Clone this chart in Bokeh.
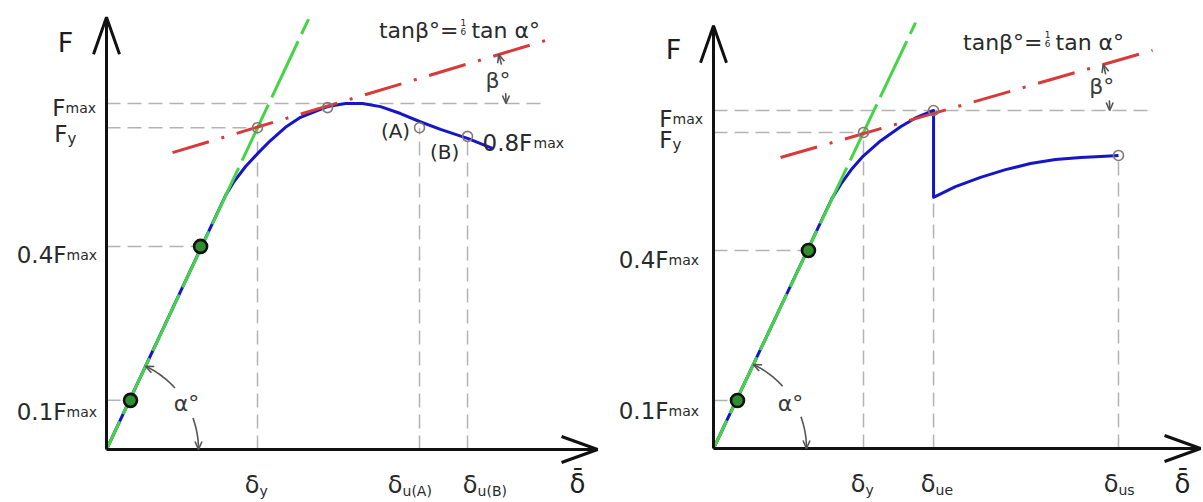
import numpy as np
from bokeh.plotting import figure
from bokeh.models import Range1d
from bokeh.layouts import row
from bokeh.core.properties import value
from bokeh.embed import file_html
from bokeh.resources import INLINE

FONT = "DejaVu Sans"
BLUE = "#1616c8"
GREEN = "#44d444"
RED = "#d83a3a"
GREY = "#b3b3b3"
INK = "#2a2a2a"
ARC = "#555555"

# ---------------- Left panel (δ in units of δy, F in units of Fmax) ----------------
L_curve_d = [0, 0.788, 0.841, 0.921, 1.000, 1.086, 1.185, 1.285, 1.384, 1.464, 1.583,
             1.695, 1.815, 1.947, 2.073, 2.212, 2.391, 2.556]
L_curve_F = [0, 0.734, 0.772, 0.818, 0.855, 0.893, 0.931, 0.960, 0.977, 0.991, 1.000,
             1.000, 0.991, 0.971, 0.948, 0.925, 0.899, 0.870]
L_green_d = [0, 1.338]
L_green_F = [0, 1.244]
L_red_d = [0.437, 2.907]
L_red_F = [0.858, 1.182]
L_hline_F = [1.0, 0.93, 0.587, 0.142]
L_hline_end = [2.894, 1.0, 0.623, 0.159]
L_ylab_main = ["F", "F", "0.4F", "0.1F"]
L_ylab_sub = ["max", "y", "max", "max"]
L_vline_d = [1.0, 2.073, 2.391]
L_vline_top = [0.93, 0.93, 0.905]
L_xlab_sub = ["y", "u(A)", "u(B)"]
L_big_d = [0.159, 0.623]
L_big_F = [0.142, 0.587]
L_small_d = [1.0, 1.464, 2.073, 2.391]
L_small_F = [0.93, 0.988, 0.93, 0.905]

# ---------------- Right panel ----------------
R_curve_d = [0, 0.790, 0.850, 0.920, 1.000, 1.113, 1.247, 1.347, 1.467, 1.467, 1.613, 1.780,
             1.947, 2.113, 2.280, 2.447, 2.580, 2.700]
R_curve_F = [0, 0.740, 0.783, 0.826, 0.866, 0.910, 0.952, 0.978, 1.000, 0.743, 0.775, 0.802,
             0.825, 0.843, 0.855, 0.861, 0.864, 0.867]
R_green_d = [0, 1.347]
R_green_F = [0, 1.260]
R_red_d = [0.447, 2.927]
R_red_F = [0.861, 1.178]
R_hline_F = [1.0, 0.935, 0.586, 0.142]
R_hline_end = [2.913, 1.0, 0.633, 0.160]
R_ylab_main = ["F", "F", "0.4F", "0.1F"]
R_ylab_sub = ["max", "y", "max", "max"]
R_vline_d = [1.0, 1.467, 2.700]
R_vline_top = [0.935, 1.0, 0.867]
R_xlab_sub = ["y", "ue", "us"]
R_big_d = [0.160, 0.633]
R_big_F = [0.142, 0.586]
R_small_d = [1.0, 1.467, 2.700]
R_small_F = [0.935, 1.0, 0.867]

H = 502


def make_panel(W, ox, oy, sx, sy, d):
    p = figure(width=W, height=H,
               x_range=Range1d(-ox / sx, (W - ox) / sx),
               y_range=Range1d(-(H - oy) / sy, oy / sy),
               output_backend="svg", toolbar_location=None,
               x_axis_location=None, y_axis_location=None, min_border=0)
    p.outline_line_color = None
    p.xgrid.visible = False
    p.ygrid.visible = False
    p.background_fill_color = "white"
    p.border_fill_color = "white"

    def T(x, y, s, size, dx=0, dy=0, align="left", base="alphabetic", color=INK):
        p.text(x=[x], y=[y], text=[s], x_offset=dx, y_offset=dy,
               text_align=align, text_baseline=base,
               text_font_size=f"{size}px", text_font=value(FONT), text_color=color)

    # grey reference lines
    for yv, xe in zip(d["hline_F"], d["hline_end"]):
        p.line([0, xe], [yv, yv], line_color=GREY, line_width=1.5, line_dash="14 7")
    for xv, yt in zip(d["vline_d"], d["vline_top"]):
        p.line([xv, xv], [0, yt], line_color=GREY, line_width=1.5, line_dash="14 7")

    # response curve
    p.line(d["curve_d"], d["curve_F"], line_color=BLUE, line_width=3, line_join="round")
    # initial stiffness line (alpha)
    p.line(d["green_d"], d["green_F"], line_color=GREEN, line_width=3,
           line_dash="62 8", line_dash_offset=31)
    # reduced stiffness line (beta)
    p.line(d["red_d"], d["red_F"], line_color=RED, line_width=3, line_dash="38 13 3 13")

    # markers
    p.scatter(d["small_d"], d["small_F"], size=10, fill_color=None,
              line_color="#857873", line_width=1.6)
    p.scatter(d["big_d"], d["big_F"], size=13, fill_color="#2f8f2f",
              line_color="#111111", line_width=2.6)

    # axes with open arrowheads
    yt, xt = d["y_tip"], d["x_tip"]
    p.line([0, 0], [0, yt], line_color="#111111", line_width=3)
    p.line([0, xt], [0, 0], line_color="#111111", line_width=3)
    p.line([-13 / sx, 0, 13 / sx], [yt - 37 / sy, yt, yt - 37 / sy],
           line_color="#111111", line_width=3)
    p.line([xt - 36 / sx, xt, xt - 36 / sx], [13 / sy, 0, -13 / sy],
           line_color="#111111", line_width=3)

    def arc(cx, cy, r, t0, t1):
        t = np.radians(np.linspace(t0, t1, 30))
        p.line(cx + r * np.cos(t) / sx, cy + r * np.sin(t) / sy,
               line_color=ARC, line_width=1.6)

    def head(cx, cy, r, t, sign):
        tr = np.radians(t)
        tx, ty = r * np.cos(tr), r * np.sin(tr)
        ux, uy = -np.sin(tr) * sign, np.cos(tr) * sign
        L, w = 8, 3.5
        bx, by = tx - L * ux, ty - L * uy
        nx, ny = -uy, ux
        pts = [(bx + w * nx, by + w * ny), (tx, ty), (bx - w * nx, by - w * ny)]
        p.line([cx + a / sx for a, b in pts], [cy + b / sy for a, b in pts],
               line_color=ARC, line_width=1.6)

    # alpha arc
    g_slope = d["green_F"][1] / d["green_d"][1]
    ta = np.degrees(np.arctan(g_slope * sy / sx))
    ra = d["alpha_r"]
    arc(0, 0, ra, ta, 42)
    arc(0, 0, ra, 20, 0)
    head(0, 0, ra, ta, 1)
    head(0, 0, ra, 0, -1)
    T(0, 0, "α°", 22, d["alpha_lab"][0], d["alpha_lab"][1], "center", "middle", "#3a3a3a")

    # beta arc: centred where red line meets Fmax line
    r_slope = (d["red_F"][1] - d["red_F"][0]) / (d["red_d"][1] - d["red_d"][0])
    cxb = d["red_d"][0] + (1.0 - d["red_F"][0]) / r_slope
    tb = np.degrees(np.arctan(r_slope * sy / sx))
    rb = d["beta_r"]
    arc(cxb, 1.0, rb, 0, 3.5)
    arc(cxb, 1.0, rb, tb - 3.5, tb)
    head(cxb, 1.0, rb, 0, -1)
    head(cxb, 1.0, rb, tb, 1)
    T(cxb, 1.0, "β°", 22, d["beta_lab"][0], d["beta_lab"][1], "center", "middle", "#3a3a3a")

    # formula near end of red line
    ex, ey = d["red_d"][1], d["red_F"][1]
    fx, fy = d["frac"]
    T(ex, ey, "tanβ°=", 22, fx - 5, fy, "right")
    T(ex, ey, "1", 9, fx, fy - 8, "center")
    T(ex, ey, "6", 9, fx, fy + 1, "center")
    T(ex, ey, "tan α°", 22, fx + 8, fy, "left")

    # axis titles
    T(0, yt, "F", 27, d["F_lab"][0], d["F_lab"][1], "center", "middle", "#1e1e1e")
    T(xt, 0, "δ\u0304", 26, d["D_lab"][0], d["D_lab"][1], "center", "middle", "#1e1e1e")

    # y labels
    for yv, mn, sb, mdx, bdy in zip(d["hline_F"], d["ylab_main"], d["ylab_sub"],
                                    d["ylab_dx"], d["ylab_dy"]):
        T(0, yv, mn, 23, mdx, bdy, "right")
        if sb == "y":
            T(0, yv, sb, 15, mdx, bdy + 5, "left")
        else:
            T(0, yv, sb, 14, mdx, bdy, "left")

    # x labels
    for xv, sb, ddx in zip(d["vline_d"], d["xlab_sub"], d["xlab_dx"]):
        T(xv, 0, "δ", 24, ddx, 35, "right")
        T(xv, 0, sb, 14, ddx, 41, "left")

    for item in d.get("extra", []):
        T(*item)
    return p


left = make_panel(606, 106, 449, 151, 346, dict(
    curve_d=L_curve_d, curve_F=L_curve_F, green_d=L_green_d, green_F=L_green_F,
    red_d=L_red_d, red_F=L_red_F, hline_F=L_hline_F, hline_end=L_hline_end,
    ylab_main=L_ylab_main, ylab_sub=L_ylab_sub, vline_d=L_vline_d, vline_top=L_vline_top,
    xlab_sub=L_xlab_sub, big_d=L_big_d, big_F=L_big_F, small_d=L_small_d, small_F=L_small_F,
    y_tip=1.249, x_tip=3.252, alpha_r=92, alpha_lab=(80, -46), beta_r=170,
    beta_lab=(162, -23), frac=(-82, -10), F_lab=(-41, 25), D_lab=(-20, 34),
    ylab_dx=[-41, -39, -40, -40], ylab_dy=[4, 6, 9, 12], xlab_dx=[2, -17, 10],
    extra=[(L_small_d[2], L_small_F[2], "(A)", 20, -24, 3, "center", "middle"),
           (L_small_d[3], L_small_F[3], "(B)", 20, -23, 16, "center", "middle"),
           (L_small_d[3], L_small_F[3], "0.8F", 23, 15, 7, "left"),
           (L_small_d[3], L_small_F[3], "max", 14, 66, 7, "left")]))

right = make_panel(597, 107, 448, 150, 338, dict(
    curve_d=R_curve_d, curve_F=R_curve_F, green_d=R_green_d, green_F=R_green_F,
    red_d=R_red_d, red_F=R_red_F, hline_F=R_hline_F, hline_end=R_hline_end,
    ylab_main=R_ylab_main, ylab_sub=R_ylab_sub, vline_d=R_vline_d, vline_top=R_vline_top,
    xlab_sub=R_xlab_sub, big_d=R_big_d, big_F=R_big_F, small_d=R_small_d, small_F=R_small_F,
    y_tip=1.251, x_tip=3.247, alpha_r=93, alpha_lab=(77, -45), beta_r=166,
    beta_lab=(158, -24), frac=(-105, -8), F_lab=(-40, 24), D_lab=(-18, 35),
    ylab_dx=[-41, -41, -45, -45], ylab_dy=[8, 8, 10, 10], xlab_dx=[2, 2, 0]))

layout = row(left, right, spacing=0)
open("out.html", "w").write(file_html(layout, INLINE))
